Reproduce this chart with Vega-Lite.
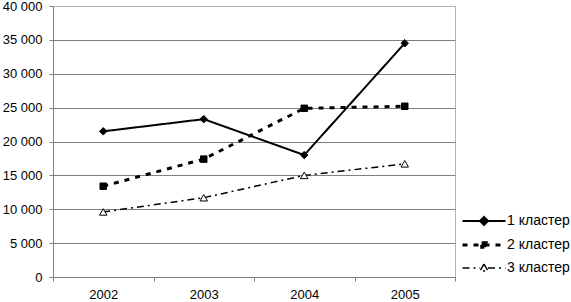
{
  "$schema": "https://vega.github.io/schema/vega-lite/v6.json",
  "width": 402,
  "height": 271,
  "autosize": "none",
  "padding": {"left": 53, "top": 6, "right": 116, "bottom": 25},
  "background": "white",
  "config": {
    "view": {"stroke": "#b4b4b4", "strokeWidth": 1},
    "font": "Liberation Sans"
  },
  "data": {
    "values": [
      {"series": "1 кластер", "year": "2002", "value": 21500},
      {"series": "1 кластер", "year": "2003", "value": 23300},
      {"series": "1 кластер", "year": "2004", "value": 18000},
      {"series": "1 кластер", "year": "2005", "value": 34500},
      {"series": "2 кластер", "year": "2002", "value": 13400},
      {"series": "2 кластер", "year": "2003", "value": 17400},
      {"series": "2 кластер", "year": "2004", "value": 24900},
      {"series": "2 кластер", "year": "2005", "value": 25200},
      {"series": "3 кластер", "year": "2002", "value": 9600},
      {"series": "3 кластер", "year": "2003", "value": 11700},
      {"series": "3 кластер", "year": "2004", "value": 15000},
      {"series": "3 кластер", "year": "2005", "value": 16700}
    ]
  },
  "encoding": {
    "x": {
      "field": "year",
      "type": "ordinal",
      "bandPosition": 0.5,
      "scale": {"type": "band", "paddingInner": 0, "paddingOuter": 0},
      "axis": {
        "title": null,
        "tickBand": "extent",
        "labelFontSize": 13,
        "labelColor": "black",
        "labelFont": "Liberation Sans",
        "labelPadding": 7,
        "labelAngle": 0,
        "tickSize": 4,
        "tickColor": "#808080",
        "domainColor": "#808080",
        "grid": false
      }
    },
    "y": {
      "field": "value",
      "type": "quantitative",
      "scale": {"domain": [0, 40000], "nice": false},
      "axis": {
        "title": null,
        "values": [0, 5000, 10000, 15000, 20000, 25000, 30000, 35000, 40000],
        "labelExpr": "replace(format(datum.value, ','), ',', ' ')",
        "labelFontSize": 13,
        "labelColor": "black",
        "labelFont": "Liberation Sans",
        "labelPadding": 7,
        "tickSize": 4,
        "tickColor": "#808080",
        "domainColor": "#808080",
        "grid": true,
        "gridColor": {"condition": {"test": "datum.value === 40000", "value": "#b4b4b4"}, "value": "#808080"},
        "gridWidth": 1
      }
    }
  },
  "layer": [
    {
      "mark": {"type": "line", "color": "black"},
      "encoding": {
        "strokeDash": {
          "field": "series",
          "type": "nominal",
          "scale": {
            "domain": ["1 кластер", "2 кластер", "3 кластер"],
            "range": [[1, 0], [5, 6], [7, 4, 2, 4]]
          },
          "legend": {
            "title": null,
            "orient": "none",
            "legendX": 424,
            "legendY": 208,
            "symbolSize": 100,
            "symbolOpacity": 1,
            "symbolStrokeColor": "black",
            "labelFontSize": 14,
            "labelColor": "black",
            "labelFont": "Liberation Sans",
            "labelOffset": 16,
            "rowPadding": 7
          }
        },
        "strokeWidth": {
          "field": "series",
          "type": "nominal",
          "scale": {
            "type": "ordinal",
            "domain": ["1 кластер", "2 кластер", "3 кластер"],
            "range": [2, 3, 1.5]
          },
          "legend": null
        }
      }
    },
    {
      "mark": {"type": "point", "filled": true, "stroke": "black", "opacity": 0},
      "encoding": {
        "shape": {
          "field": "series",
          "type": "nominal",
          "scale": {
            "domain": ["1 кластер", "2 кластер", "3 кластер"],
            "range": [
              "M-4.3,0H4.3M0,-0.8L0.8,0L0,0.8L-0.8,0Z",
              "M-4.3,0H4.3M-0.45,-0.45H0.45V0.45H-0.45Z",
              "M-4.3,0H-0.8M0.8,0H4.3M0,-0.8L0.8,0.6H-0.8Z"
            ]
          },
          "legend": null
        },
        "fill": {
          "field": "series",
          "type": "nominal",
          "scale": {
            "domain": ["1 кластер", "2 кластер", "3 кластер"],
            "range": ["black", "black", "white"]
          },
          "legend": null
        }
      }
    },
    {
      "transform": [{"filter": "datum.series === '1 кластер'"}],
      "mark": {"type": "point", "shape": "diamond", "size": 56, "filled": true, "fill": "black", "stroke": "black", "strokeWidth": 1, "opacity": 1}
    },
    {
      "transform": [{"filter": "datum.series === '2 кластер'"}],
      "mark": {"type": "point", "shape": "square", "size": 42, "filled": true, "fill": "black", "stroke": "black", "strokeWidth": 1, "opacity": 1}
    },
    {
      "transform": [{"filter": "datum.series === '3 кластер'"}],
      "mark": {"type": "point", "shape": "triangle-up", "size": 56, "filled": true, "fill": "white", "stroke": "black", "strokeWidth": 1, "opacity": 1}
    }
  ]
}
